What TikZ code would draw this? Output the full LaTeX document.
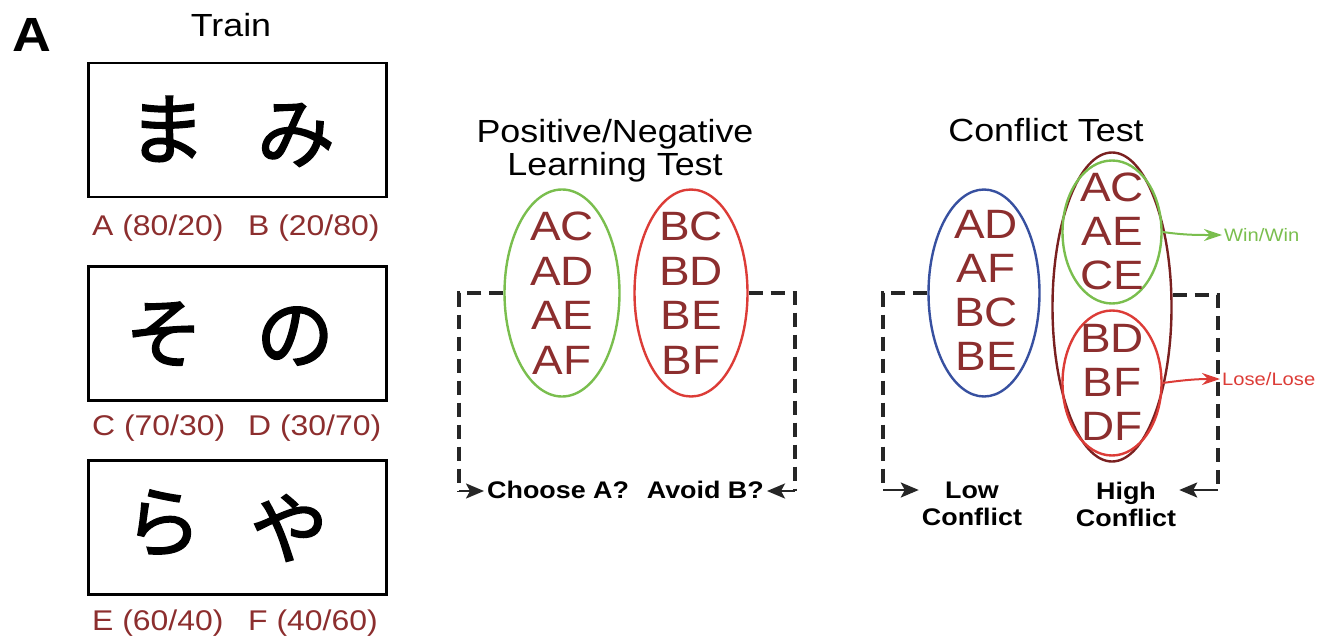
\documentclass[tikz,border=0pt]{standalone}
\usepackage{fontspec}
\setmainfont{Liberation Sans}[FakeStretch=1.12]
\newfontfamily\kanafont{Noto Sans CJK JP}[FakeBold=2]
\usetikzlibrary{shapes.geometric,arrows.meta}
\definecolor{pairred}{RGB}{140,46,46}
\definecolor{pgreen}{RGB}{122,190,78}
\definecolor{pred}{RGB}{220,60,55}
\definecolor{pblue}{RGB}{55,80,160}
\definecolor{pbrown}{RGB}{122,32,32}
\begin{document}
\begin{tikzpicture}[x=1pt,y=-1pt,
            card/.style={rectangle, draw, line width=2.5pt, minimum width=298, minimum height=134, anchor=north west},
            kana/.style={font=\kanafont\fontsize{78}{78}\selectfont, inner sep=0pt},
            odds/.style={text=pairred, font=\fontsize{28.5}{30}\selectfont, anchor=base west, inner sep=0pt},
            title/.style={font=\fontsize{32}{33}\selectfont, align=center, inner sep=0pt},
            pairs/.style={text=pairred, font=\fontsize{41}{44.5}\selectfont, align=center, inner sep=0pt},
            group/.style={ellipse, draw, line width=2.4pt, inner sep=0pt},
            verdict/.style={font=\bfseries\fontsize{24}{27}\selectfont, align=center, inner sep=3pt},
            outcome/.style={font=\fontsize{18}{18}\selectfont, anchor=west, inner sep=2pt},
            bracket/.style={line width=3.5pt, dash pattern=on 14pt off 8pt, black!85},
            pointer/.style={line width=2.5pt, black!85, -{Stealth[length=18pt,width=15pt,inset=4pt]}},
        ]
            \useasboundingbox (0,0) rectangle (1322,639);
            \node(panel) at (12,52) [anchor=base west, inner sep=0pt, font=\bfseries\fontsize{48}{48}\selectfont] {A};

            % training pairs
            \node(train) at (231,37) [title, anchor=base] {Train};
            \node(abcard) at (87,62) [card] {};
            \node(cdcard) at (87,265) [card] {};
            \node(efcard) at (87,459) [card] {};
            \node(kanaa) at (167,129) [kana] {ま};
            \node(kanab) at (296,135) [kana] {み};
            \node(kanac) at (164,334) [kana] {そ};
            \node(kanad) at (295,336) [kana] {の};
            \node(kanae) at (163,523) [kana] {ら};
            \node(kanaf) at (289,528) [kana] {や};
            \node(oddsa) at (92,235) [odds] {A (80/20)};
            \node(oddsb) at (248,235) [odds] {B (20/80)};
            \node(oddsc) at (92,435) [odds] {C (70/30)};
            \node(oddsd) at (248,435) [odds] {D (30/70)};
            \node(oddse) at (92,630) [odds] {E (60/40)};
            \node(oddsf) at (248,630) [odds] {F (40/60)};

            % positive/negative learning test
            \node(pntitle) at (615,119) [title, anchor=north] {Positive/Negative\\Learning Test};
            \node(choosegrp) at (562,293) [group, draw=pgreen, minimum width=115, minimum height=207] {};
            \node(avoidgrp) at (691,293) [group, draw=pred, minimum width=113, minimum height=207] {};
            \node(choosetxt) at (choosegrp) [pairs] {AC\\AD\\AE\\AF};
            \node(avoidtxt) at (avoidgrp) [pairs] {BC\\BD\\BE\\BF};
            \node(choose) at (484,498) [verdict, anchor=base west] {Choose A?};
            \node(avoid) at (767,498) [verdict, anchor=base east] {Avoid B?};
            \coordinate (posleft) at (459,491);
            \coordinate (posright) at (795,491);
            \draw[bracket] (choosegrp.west) -| (posleft);
            \draw[bracket] (avoidgrp.east) -| (posright);
            \draw[pointer] (posleft) -- (posleft -| choose.west);
            \draw[pointer] (posright) -- (posright -| avoid.east);

            % conflict test
            \node(cftitle) at (1046,142) [title, anchor=base] {Conflict Test};
            \node(lowgrp) at (984,293) [group, draw=pblue, minimum width=111, minimum height=207] {};
            \node(highgrp) at (1112,307) [group, draw=pbrown, minimum width=119, minimum height=309] {};
            \node(wingrp) at (1112,232) [group, draw=pgreen, minimum width=99, minimum height=143] {};
            \node(losegrp) at (1112,383) [group, draw=pred, minimum width=99, minimum height=145] {};
            \node(lowtxt) at (986,290) [pairs, font=\fontsize{41}{44}\selectfont] {AD\\AF\\BC\\BE};
            \node(wintxt) at (1112,231) [pairs, font=\fontsize{41}{44}\selectfont] {AC\\AE\\CE};
            \node(losetxt) at (1112,382) [pairs, font=\fontsize{41}{44}\selectfont] {BD\\BF\\DF};
            \node(win) at (1222,235) [outcome, text=pgreen] {Win/Win};
            \node(lose) at (1220,379) [outcome, text=pred] {Lose/Lose};
            \draw[pgreen, line width=2pt, -{Stealth[length=18pt,width=12pt]}] (wingrp.east) to[out=-8, in=180] (win.west);
            \draw[pred, line width=2pt, -{Stealth[length=18pt,width=12pt]}] (losegrp.east) to[out=8, in=180] (lose.west);
            \node(lowc) at (972,479) [verdict, anchor=north] {Low\\Conflict};
            \node(highc) at (1126,479) [verdict, anchor=north] {High\\Conflict};
            \coordinate (lowbar) at (883,490);
            \coordinate (highbar) at (1218,490);
            \draw[bracket] (lowgrp.west) -| (lowbar);
            \draw[bracket] (highgrp.11) -| (highbar);
            \draw[pointer] (lowbar) -- (lowbar -| lowc.west);
            \draw[pointer] (highbar) -- (highbar -| highc.east);
        \end{tikzpicture}
\end{document}
